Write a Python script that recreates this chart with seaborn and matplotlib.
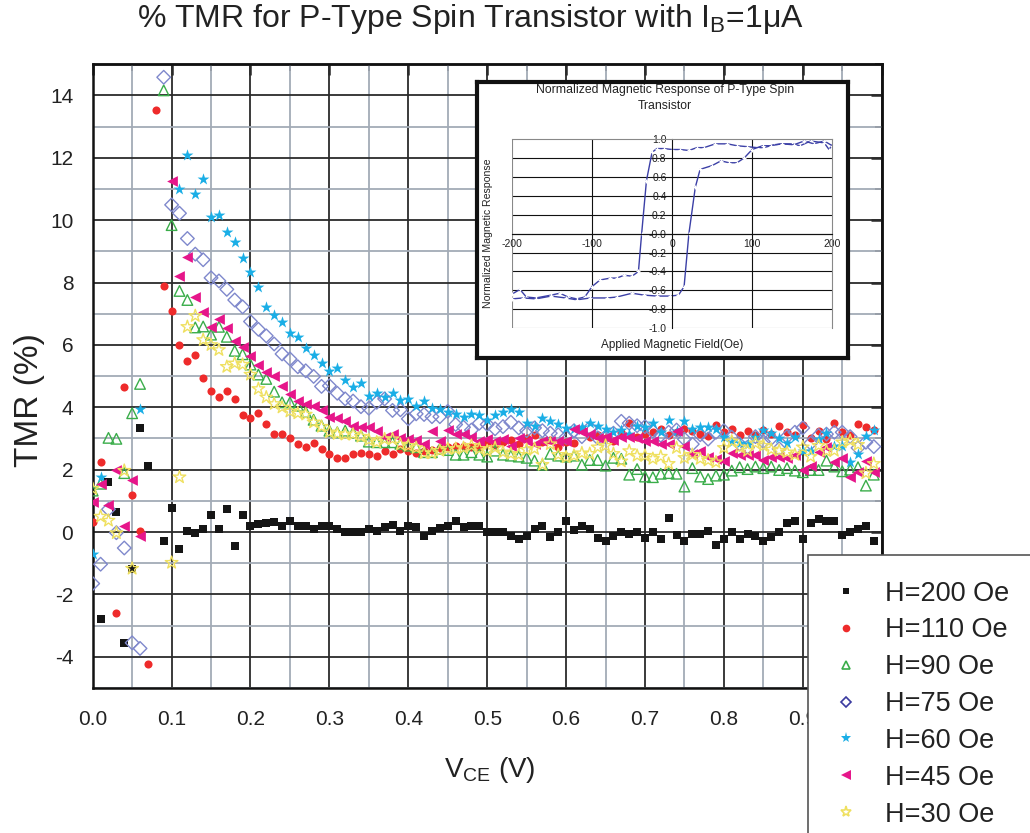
import numpy as np
import pandas as pd
import matplotlib
matplotlib.use("Agg")
import matplotlib.pyplot as plt
from matplotlib.lines import Line2D
from matplotlib.ticker import MultipleLocator
import seaborn as sns

nan = np.nan

# V_CE grid (0.00 .. 0.99 V, 10 mV steps)
vce = np.round(np.arange(100) * 0.01, 2)

tmr_200 = [nan, -2.79, 1.6, 0.65, -3.55, -1.17, 3.34, 2.12, nan, -0.3,
           0.77, -0.55, 0.05, -0.02, 0.1, 0.54, 0.1, 0.73, -0.44, 0.54,
           0.18, 0.27, 0.29, 0.31, 0.18, 0.34, 0.18, 0.18, 0.09, 0.2,
           0.2, 0.09, -0.01, -0.01, 0.0, 0.09, 0.04, 0.15, 0.23, 0.02,
           0.18, 0.15, -0.13, 0.04, 0.13, 0.18, 0.36, 0.15, 0.18, 0.18,
           0.01, 0.01, -0.01, -0.14, -0.21, -0.12, 0.1, 0.18, -0.16, -0.01,
           0.37, 0.07, 0.18, 0.09, -0.19, -0.27, -0.13, -0.01, -0.05, -0.01,
           -0.19, -0.01, -0.23, 0.44, -0.1, -0.27, -0.05, -0.07, 0.05, -0.43,
           -0.21, -0.01, -0.21, -0.07, -0.11, -0.27, -0.16, -0.01, 0.3, 0.37,
           -0.21, 0.3, 0.43, 0.37, 0.37, -0.1, -0.01, 0.11, 0.21, -0.27]

tmr_110 = [0.31, 2.24, nan, -2.59, 4.66, 1.2, 0.05, -4.23, 13.53, 7.88,
           7.09, 6.0, 5.5, 5.69, 4.94, 4.51, 4.34, 4.51, 4.26, 3.74,
           3.67, 3.83, 3.46, 3.13, 3.13, 3.02, 2.81, 2.74, 2.85, 2.66,
           2.51, 2.37, 2.37, 2.51, 2.53, 2.51, 2.43, 2.59, 2.51, 2.67,
           2.61, 2.54, 2.61, 2.64, 2.68, 2.72, 2.77, 2.75, 2.74, 2.74,
           2.85, 2.8, 2.9, 2.95, 2.82, 3.0, 3.1, 2.9, 2.95, 2.72,
           2.9, 2.85, 3.3, 3.05, 3.1, 3.0, 2.93, 3.2, 3.49, 3.04,
           3.15, 3.2, 3.32, 3.1, 3.2, 3.3, 3.25, 3.15, 3.09, 3.42,
           3.2, 3.3, 3.1, 3.23, 3.1, 3.27, 3.15, 3.41, 3.2, 3.1,
           3.42, 3.0, 3.23, 2.98, 3.51, 3.2, 3.1, 3.46, 3.36, 3.28]

tmr_90 = [1.33, 1.55, 3.02, 2.99, 1.89, 3.81, 4.75, nan, nan, 14.16,
          9.84, 7.73, 7.44, 6.56, 6.59, 6.33, 6.58, 6.26, 5.81, 5.7,
          5.37, 5.05, 4.91, 4.5, 4.16, 4.16, 4.05, 3.85, 3.6, 3.41,
          3.25, 3.2, 3.25, 3.19, 3.09, 2.9, 2.88, 2.88, 2.88, 2.83,
          2.77, 2.72, 2.56, 2.56, 2.67, 2.63, 2.48, 2.48, 2.56, 2.48,
          2.42, 2.61, 2.48, 2.45, 2.42, 2.38, 2.29, 2.16, 2.51, 2.45,
          2.42, 2.45, 2.16, 2.31, 2.31, 2.13, 2.38, 2.35, 1.84, 2.02,
          1.78, 1.76, 1.87, 1.89, 1.87, 1.46, 2.05, 1.78, 1.7, 1.81,
          1.84, 1.97, 2.08, 2.02, 2.1, 2.05, 2.1, 1.99, 2.05, 1.97,
          1.92, 1.99, 1.99, 2.29, 2.1, 1.95, 2.0, 2.08, 1.49, 1.84]

tmr_75 = [-1.65, -1.03, 0.73, -0.02, -0.51, -3.55, -3.73, nan, nan, 14.58,
          10.49, 10.22, 9.41, 8.91, 8.73, 8.15, 8.05, 7.78, 7.44, 7.22,
          6.75, 6.5, 6.29, 6.03, 5.71, 5.55, 5.3, 5.17, 4.99, 4.67,
          4.69, 4.45, 4.27, 4.2, 4.02, 3.97, 4.16, 4.27, 3.9, 3.92,
          3.63, 3.79, 3.77, 3.7, 3.7, 3.87, 3.45, 3.36, 3.27, 3.49,
          3.45, 3.31, 3.38, 3.52, 3.34, 3.25, 3.34, 3.25, 3.17, 3.12,
          3.04, 3.25, 3.06, 3.34, 3.02, 3.06, 3.17, 3.55, 3.49, 3.41,
          3.38, 3.23, 3.1, 3.2, 3.27, 2.98, 2.82, 3.12, 2.98, 3.2,
          3.25, 3.04, 2.82, 2.72, 3.06, 2.9, 3.0, 2.67, 3.06, 3.2,
          3.34, 2.85, 3.1, 3.14, 3.2, 3.2, 3.06, 2.7, 2.88, 2.74]

tmr_60 = [-0.69, 1.78, nan, nan, nan, nan, 3.95, nan, nan, nan,
          nan, 11.01, 12.09, 10.85, 11.32, 10.11, 10.16, 9.62, 9.3, 8.79,
          8.34, 7.86, 7.23, 6.97, 6.75, 6.37, 6.24, 5.9, 5.69, 5.42,
          5.15, 5.25, 4.88, 4.64, 4.77, 4.37, 4.45, 4.34, 4.45, 4.24,
          4.27, 4.05, 4.19, 3.98, 3.95, 3.84, 3.79, 3.7, 3.79, 3.74,
          3.59, 3.74, 3.84, 3.95, 3.84, 3.49, 3.41, 3.66, 3.55, 3.45,
          3.35, 3.3, 3.38, 3.49, 3.41, 3.31, 3.2, 3.27, 3.15, 3.41,
          3.36, 3.49, 3.2, 3.58, 3.25, 3.55, 3.3, 3.36, 3.38, 3.3,
          3.06, 2.9, 2.85, 2.82, 3.06, 3.27, 3.17, 3.0, 2.85, 3.06,
          2.61, 2.59, 2.98, 3.17, 2.77, 2.77, 2.24, 2.5, 3.09, 3.27]

tmr_45 = [0.98, 1.53, 0.88, 2.0, 0.21, 1.68, -0.11, nan, nan, nan,
          11.25, 8.21, 8.82, 7.52, 7.07, 6.56, 6.83, 6.54, 6.11, 5.94,
          5.64, 5.37, 5.12, 5.01, 4.69, 4.43, 4.19, 4.1, 4.05, 3.92,
          3.7, 3.66, 3.55, 3.41, 3.36, 3.36, 3.25, 3.04, 3.15, 3.02,
          2.98, 2.95, 2.81, 3.25, 2.91, 3.27, 3.13, 3.13, 3.04, 2.93,
          2.98, 2.91, 2.98, 2.77, 3.02, 2.91, 2.82, 2.93, 2.91, 2.93,
          2.91, 3.31, 3.2, 3.15, 3.02, 3.06, 2.95, 3.06, 3.04, 3.02,
          2.93, 2.93, 2.82, 2.81, 3.25, 2.77, 2.51, 2.61, 2.42, 2.35,
          2.27, 2.53, 2.48, 2.48, 2.48, 2.3, 2.42, 2.4, 2.38, 2.48,
          1.99, 2.13, 2.56, 2.72, 2.24, 2.38, 1.78, 1.92, 2.29, 1.92]

tmr_30 = [1.39, 0.5, 0.37, -0.03, 1.97, -1.17, nan, nan, nan, nan,
          -0.98, 1.76, 6.58, 6.93, 6.16, 6.0, 5.84, 5.3, 5.41, 5.37,
          5.05, 4.59, 4.32, 4.11, 4.0, 3.87, 3.81, 3.77, 3.52, 3.38,
          3.2, 3.15, 3.13, 3.13, 3.06, 2.95, 2.88, 2.98, 2.98, 2.81,
          2.77, 2.7, 2.53, 2.53, 2.61, 2.67, 2.67, 2.7, 2.77, 2.67,
          2.6, 2.7, 2.56, 2.51, 2.48, 2.64, 2.67, 2.16, 2.82, 2.48,
          2.4, 2.45, 2.53, 2.51, 2.72, 2.77, 2.51, 2.27, 2.6, 2.45,
          2.45, 2.35, 2.42, 2.19, 2.7, 2.38, 2.48, 2.35, 2.3, 2.24,
          2.7, 2.91, 2.72, 2.61, 2.85, 2.77, 2.65, 2.61, 2.56, 2.48,
          2.72, 2.42, 2.77, 2.6, 2.61, 2.88, 2.93, 2.8, 1.89, 2.19]

labels = ["H=200 Oe", "H=110 Oe", "H=90 Oe", "H=75 Oe", "H=60 Oe", "H=45 Oe", "H=30 Oe"]
tmr_sets = [tmr_200, tmr_110, tmr_90, tmr_75, tmr_60, tmr_45, tmr_30]

# inset: normalized magnetic response loop
field_a = [-200, -190, -182, -170, -151, -140, -130, -119, -109, -100,
           -90, -77, -69, -60, -50, -42, -38, -32, -25, -19,
           -10, 0, 10, 21, 31, 40, 54, 69, 81, 94,
           106, 115, 127, 137, 150, 160, 173, 190, 196, 200]
resp_a = [-0.64, -0.59, -0.67, -0.68, -0.65, -0.63, -0.67, -0.69, -0.67, -0.56,
          -0.49, -0.47, -0.47, -0.44, -0.45, -0.40, 0.0, 0.56, 0.86, 0.90,
          0.90, 0.89, 0.89, 0.88, 0.91, 0.91, 0.95, 0.95, 0.93, 0.92,
          0.91, 0.91, 0.94, 0.95, 0.95, 0.93, 0.98, 0.96, 0.89, 0.94]
field_b = [-200, -186, -170, -151, -133, -119, -102, -81, -69, -50,
           -35, -19, -2, 8, 15, 21, 29, 35, 50, 61,
           71, 81, 90, 100, 113, 123, 137, 152, 165, 177,
           190, 200]
resp_b = [-0.69, -0.68, -0.69, -0.66, -0.68, -0.70, -0.68, -0.68, -0.67, -0.63,
          -0.65, -0.66, -0.66, -0.65, -0.56, 0.0, 0.49, 0.68, 0.72, 0.77,
          0.75, 0.75, 0.80, 0.89, 0.93, 0.93, 0.95, 0.94, 0.98, 0.95,
          0.98, 0.93]

sns.set_style("white")
plt.rcParams["font.family"] = ["Liberation Sans", "DejaVu Sans"]
plt.rcParams["axes.unicode_minus"] = False
plt.rcParams["mathtext.fontset"] = "custom"
plt.rcParams["mathtext.rm"] = "Liberation Sans"

df = pd.concat([pd.DataFrame({"vce": vce, "tmr": vals, "field": lab})
                for lab, vals in zip(labels, tmr_sets)], ignore_index=True)

styles = {
    "H=200 Oe": dict(marker="s", color="#151515", s=36, open=False),
    "H=110 Oe": dict(marker="o", color="#ee2b2b", s=34, open=False),
    "H=90 Oe": dict(marker="^", color="#3aad4a", s=58, open=True),
    "H=75 Oe": dict(marker="D", color="#7f88cc", s=48, open=True),
    "H=60 Oe": dict(marker="*", color="#1aaee6", s=80, open=False),
    "H=45 Oe": dict(marker="<", color="#e6168a", s=60, open=False),
    "H=30 Oe": dict(marker="*", color="#efe060", s=90, open=True),
}
legend_colors = {"H=75 Oe": "#3a3aa0"}

fig = plt.figure(figsize=(10.30, 8.33), dpi=100)
ax = fig.add_axes([0.090, 0.174, 0.766, 0.749])

for lab in labels:
    st = styles[lab]
    sub = df[df["field"] == lab]
    sns.scatterplot(data=sub, x="vce", y="tmr", marker=st["marker"], color=st["color"],
                    s=st["s"], linewidth=0, ax=ax, zorder=3)
    coll = ax.collections[-1]
    if st["open"]:
        coll.set_facecolor("none")
        coll.set_edgecolor(st["color"])
        coll.set_linewidth(1.0)

ax.set_xlim(0, 1.0)
ax.set_ylim(-5, 15)
ax.xaxis.set_major_locator(MultipleLocator(0.1))
ax.xaxis.set_minor_locator(MultipleLocator(0.05))
ax.yaxis.set_major_locator(MultipleLocator(2))
ax.yaxis.set_minor_locator(MultipleLocator(1))
ax.xaxis.set_major_formatter(lambda v, p: f"{v:.1f}")
ax.yaxis.set_major_formatter(lambda v, p: f"{v:.0f}")
ax.set_axisbelow(True)
ax.grid(which="major", color="#2b2b2b", linewidth=1.3)
ax.grid(which="minor", color="#a3abb6", linewidth=1.3)
for sp in ax.spines.values():
    sp.set_color("#111111")
    sp.set_linewidth(1.8)
ax.tick_params(which="major", direction="out", length=9, width=1.8, labelsize=15, color="#111111")
ax.tick_params(which="minor", direction="out", length=6, width=1.4, color="#111111")
ax.tick_params(axis="x", pad=7)
ax.tick_params(axis="y", pad=5)
for t in ax.get_xticklabels() + ax.get_yticklabels():
    t.set_color("#222222")
ax.set_xlabel("")
ax.set_ylabel("")

top = ax.secondary_xaxis("top")
top.xaxis.set_major_locator(MultipleLocator(0.1))
top.xaxis.set_minor_locator(MultipleLocator(0.05))
top.tick_params(which="major", direction="in", length=8, width=1.8, labeltop=False)
top.tick_params(which="minor", direction="in", length=5, width=1.4)
top.spines["top"].set_linewidth(1.8)
right = ax.secondary_yaxis("right")
right.yaxis.set_major_locator(MultipleLocator(2))
right.yaxis.set_minor_locator(MultipleLocator(1))
right.tick_params(which="major", direction="in", length=8, width=1.8, labelright=False)
right.tick_params(which="minor", direction="in", length=5, width=1.4)
right.spines["right"].set_linewidth(1.8)

fig.text(0.457, 0.977, "% TMR for P-Type Spin Transistor with I$\\mathregular{_B}$=1\u03bcA",
         ha="center", va="center", fontsize=23, color="#222222")
fig.text(0.029, 0.52, "TMR (%)", rotation=90, ha="center", va="center", fontsize=24, color="#222222")
fig.text(0.476, 0.076, "V$\\mathregular{_{CE}}$ (V)", ha="center", va="center", fontsize=20, color="#222222")

# legend
handles = []
for lab in labels:
    st = styles[lab]
    col = legend_colors.get(lab, st["color"])
    ms = {"s": 5, "o": 5.5, "^": 6, "D": 5, "*": 8, "<": 7}[st["marker"]]
    handles.append(Line2D([], [], linestyle="none", marker=st["marker"], markersize=ms,
                          markerfacecolor="none" if st["open"] else col,
                          markeredgecolor=col, markeredgewidth=1.2 if st["open"] else 0))
leg = fig.legend(handles, labels, loc="upper left", bbox_to_anchor=(0.784, 0.334),
                 bbox_transform=fig.transFigure, fontsize=19.5, frameon=True, fancybox=False,
                 framealpha=1.0, facecolor="white",
                 borderpad=0.95, labelspacing=0.4, handlelength=0.95, handletextpad=0.95,
                 borderaxespad=0)
leg.get_frame().set_edgecolor("#555555")
leg.get_frame().set_linewidth(1.2)
leg.set_zorder(10)
for t in leg.get_texts():
    t.set_color("#222222")

# inset frame
frame = fig.add_axes([0.463, 0.570, 0.360, 0.331])
frame.set_xticks([])
frame.set_yticks([])
frame.set_facecolor("white")
for sp in frame.spines.values():
    sp.set_linewidth(3.0)
    sp.set_color("#111111")

ins = fig.add_axes([0.497, 0.606, 0.311, 0.227])
sns.lineplot(x=field_a, y=resp_a, sort=False, estimator=None, color="#3b3fa6", linewidth=1.0,
             marker="+", markersize=3.5, markeredgewidth=0.9, ax=ins)
sns.lineplot(x=field_b, y=resp_b, sort=False, estimator=None, color="#3b3fa6", linewidth=1.0,
             marker="+", markersize=3.5, markeredgewidth=0.9, ax=ins)
ins.set_xlim(-200, 200)
ins.set_ylim(-1, 1)
ins.set_xticks([-200, -100, 0, 100, 200])
ins.set_yticks(np.round(np.arange(-1.0, 1.01, 0.2), 1))
ins.yaxis.set_major_formatter(lambda v, p: f"{v:.1f}")
ins.set_yticks([], minor=True)
ins.grid(False)
for yv in np.arange(-0.8, 1.0, 0.2):
    ins.axhline(yv, color="#111111", linewidth=0.8, zorder=0)
for xv in (-100, 100):
    ins.axvline(xv, color="#111111", linewidth=0.8, zorder=0)
ins.spines["left"].set_position(("data", 0))
ins.spines["bottom"].set_position(("data", 0))
ins.spines["left"].set_color("#111111")
ins.spines["bottom"].set_color("#111111")
ins.spines["left"].set_linewidth(0.8)
ins.spines["bottom"].set_linewidth(0.8)
for s in ("top", "right"):
    ins.spines[s].set_color("#888888")
    ins.spines[s].set_linewidth(0.8)
ins.axvline(-200, color="#888888", linewidth=0.8, zorder=0)
ins.axhline(-1, color="#888888", linewidth=0.8, zorder=0)
ins.tick_params(direction="out", length=2.5, width=0.7, labelsize=7.5, pad=1.5, colors="#222222")
ins.set_xlabel("")
ins.set_ylabel("")

fig.text(0.6455, 0.892, "Normalized Magnetic Response of P-Type Spin", ha="center", va="center",
         fontsize=8.8, color="#222222")
fig.text(0.6455, 0.873, "Transistor", ha="center", va="center", fontsize=8.8, color="#222222")
fig.text(0.6525, 0.586, "Applied Magnetic Field(Oe)", ha="center", va="center", fontsize=8.5, color="#222222")
fig.text(0.474, 0.720, "Normalized Magnetic Response", rotation=90, ha="center", va="center",
         fontsize=7.6, color="#222222")

fig.savefig("out.png", dpi=100)
